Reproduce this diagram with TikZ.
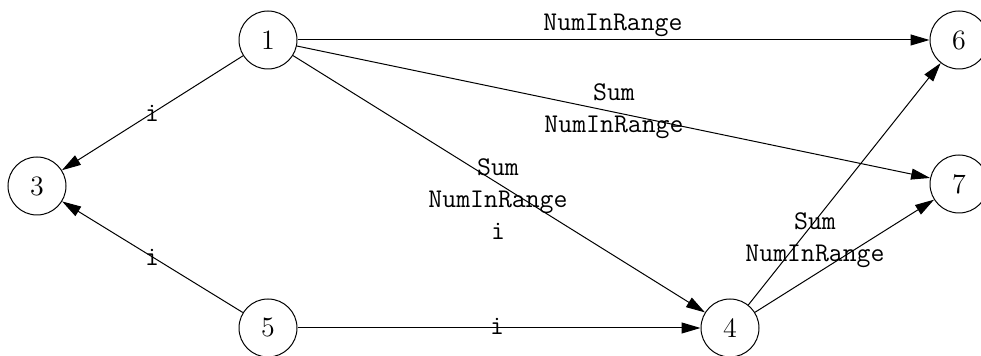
\documentclass[tikz,border=0pt]{standalone}
\usetikzlibrary{arrows.meta}
\begin{document}
\begin{tikzpicture}[x=0.5pt,y=-0.5pt,
  vert/.style={circle,draw,line width=0.5pt,minimum size=29pt,inner sep=0pt,font=\fontsize{14}{16}\selectfont},
  elab/.style={align=center,inner sep=0pt,font=\ttfamily\fontsize{13.5}{16}\selectfont},
  edge/.style={-{Triangle[length=9.5pt,width=5.5pt]},line width=0.5pt}]
\useasboundingbox (0,0) rectangle (981,356);
\node[vert] (n1) at (268,40) {1};
\node[vert] (n3) at (37,186) {3};
\node[vert] (n5) at (268,328) {5};
\node[vert] (n4) at (730,328) {4};
\node[vert] (n6) at (959,40) {6};
\node[vert] (n7) at (959,184) {7};
\draw[edge] (n1) -- (n6);
\draw[edge] (n1) -- (n7);
\draw[edge] (n1) -- (n4);
\draw[edge] (n1) -- (n3);
\draw[edge] (n5) -- (n3);
\draw[edge] (n5) -- (n4);
\draw[edge] (n4) -- (n6);
\draw[edge] (n4) -- (n7);
\node[elab] (l16) at (613,25) {NumInRange};
\node[elab] (l17) at (614,111) {Sum\\NumInRange};
\node[elab] (l14) at (498,199) {Sum\\NumInRange\\i};
\node[elab] (l13) at (152,113) {i};
\node[elab] (l53) at (152,257) {i};
\node[elab] (l54) at (497,326) {i};
\node[elab] (l4x) at (815,240) {Sum\\NumInRange};
\end{tikzpicture}
\end{document}
